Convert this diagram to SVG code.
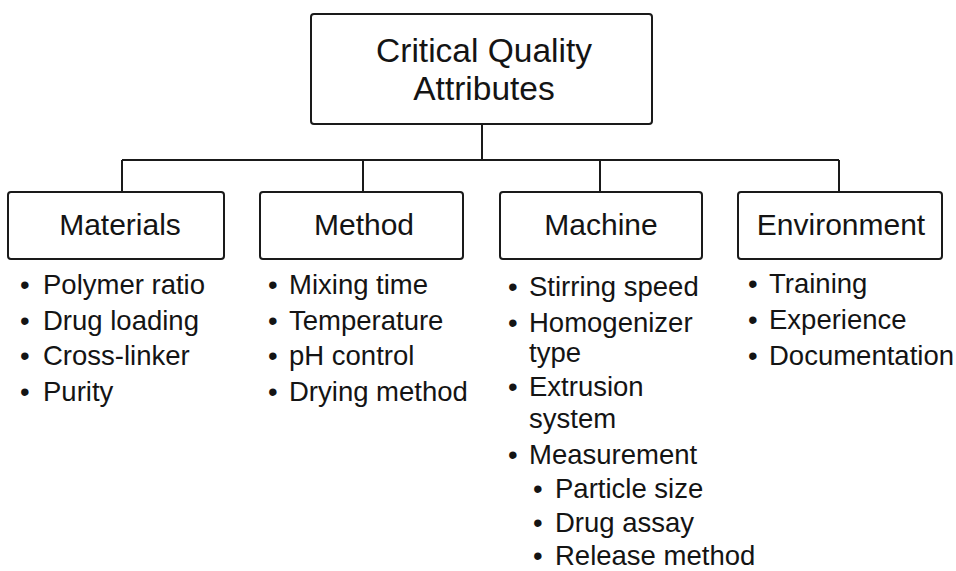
<svg xmlns="http://www.w3.org/2000/svg" width="956" height="571" viewBox="0 0 956 571">
<style>
.box{fill:#fff;stroke:#1a1a1a;stroke-width:2}
.ln{stroke:#1a1a1a;stroke-width:2;fill:none}
text{font-family:"Liberation Sans",Arial,Helvetica,sans-serif;fill:#141414}
.t{font-size:33.5px;text-anchor:middle}
.h{font-size:30px;text-anchor:middle}
.b{font-size:27.5px}
</style>
<rect width="956" height="571" fill="#fff"/>
<g id="connectors">
<path class="ln" d="M482 124V160M122 160H839M122 160V192M363 160V192M600 160V192M839 160V192"/>
</g>
<g id="cqa">
<rect class="box" x="311" y="14" width="341" height="110" rx="3"/>
<text class="t" x="484" y="62">Critical Quality</text>
<text class="t" x="484" y="100">Attributes</text>
</g>
<g id="materials">
<rect class="box" x="8" y="192" width="216" height="67" rx="3"/>
<text class="h" x="120" y="235">Materials</text>
<text class="b" y="294"><tspan x="20">•</tspan><tspan x="43">Polymer ratio</tspan></text>
<text class="b" y="330"><tspan x="20">•</tspan><tspan x="43">Drug loading</tspan></text>
<text class="b" y="365"><tspan x="20">•</tspan><tspan x="43">Cross-linker</tspan></text>
<text class="b" y="401"><tspan x="20">•</tspan><tspan x="43">Purity</tspan></text>
</g>
<g id="method">
<rect class="box" x="260" y="192" width="203" height="67" rx="3"/>
<text class="h" x="364" y="235">Method</text>
<text class="b" y="294"><tspan x="268">•</tspan><tspan x="289">Mixing time</tspan></text>
<text class="b" y="330"><tspan x="268">•</tspan><tspan x="289">Temperature</tspan></text>
<text class="b" y="365"><tspan x="268">•</tspan><tspan x="289">pH control</tspan></text>
<text class="b" y="401"><tspan x="268">•</tspan><tspan x="289">Drying method</tspan></text>
</g>
<g id="machine">
<rect class="box" x="500" y="192" width="202" height="67" rx="3"/>
<text class="h" x="601" y="235">Machine</text>
<text class="b" y="296"><tspan x="508">•</tspan><tspan x="529">Stirring speed</tspan></text>
<text class="b" y="332"><tspan x="508">•</tspan><tspan x="529">Homogenizer</tspan></text>
<text class="b" x="529" y="362">type</text>
<text class="b" y="396"><tspan x="508">•</tspan><tspan x="529">Extrusion</tspan></text>
<text class="b" x="529" y="428">system</text>
<text class="b" y="464"><tspan x="508">•</tspan><tspan x="529">Measurement</tspan></text>
<text class="b" y="498"><tspan x="533">•</tspan><tspan x="555">Particle size</tspan></text>
<text class="b" y="532"><tspan x="533">•</tspan><tspan x="555">Drug assay</tspan></text>
<text class="b" y="565"><tspan x="533">•</tspan><tspan x="555">Release method</tspan></text>
</g>
<g id="environment">
<rect class="box" x="738" y="192" width="204" height="67" rx="3"/>
<text class="h" x="841" y="235">Environment</text>
<text class="b" y="293"><tspan x="748">•</tspan><tspan x="769">Training</tspan></text>
<text class="b" y="329"><tspan x="748">•</tspan><tspan x="769">Experience</tspan></text>
<text class="b" y="365"><tspan x="748">•</tspan><tspan x="769">Documentation</tspan></text>
</g>
</svg>
